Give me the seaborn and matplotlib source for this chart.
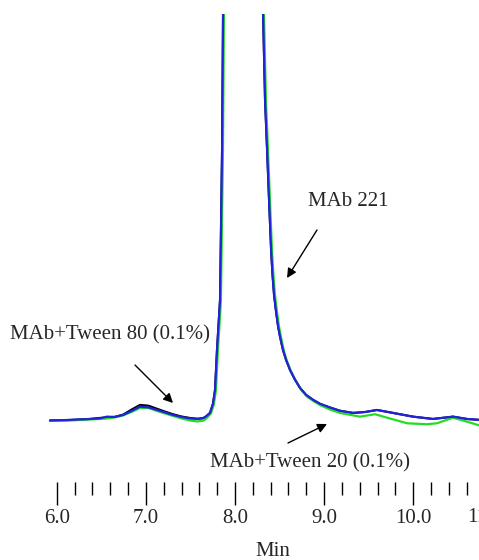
import matplotlib
matplotlib.use("Agg")
import matplotlib.pyplot as plt
import seaborn as sns
import pandas as pd
import numpy as np
from matplotlib.ticker import FixedLocator, FormatStrFormatter

# ---------------- data (retention time in min, signal in arbitrary units) -------------
# apex of the main peak is far off scale (clipped at the top of the frame)
t_black = [5.925, 6.149, 6.374, 6.480, 6.564, 6.650, 6.744, 6.840, 6.934, 7.030, 7.125,
           7.215, 7.305, 7.400, 7.495, 7.580, 7.641, 7.675, 7.720, 7.753, 7.776, 7.798,
           7.832, 7.855, 7.866, 7.875, 8.090, 8.306, 8.315, 8.337, 8.360, 8.382, 8.405,
           8.421, 8.438, 8.461, 8.483, 8.506, 8.539, 8.573, 8.618, 8.674, 8.730, 8.797,
           8.875, 8.954, 9.066, 9.178, 9.324, 9.460, 9.593, 9.773, 9.997, 10.221, 10.445,
           10.602, 10.748]
s_black = [0.12, 0.25, 0.49, 0.74, 0.86, 1.00, 1.55, 2.80, 3.95, 3.75, 3.00,
           2.30, 1.65, 1.10, 0.74, 0.55, 0.70, 1.10, 2.00, 4.20, 7.60, 17.4,
           29.7, 66.6, 100.0, 120.0, 1000.0, 120.0, 100.0, 78.9, 66.6, 54.3, 42.0,
           35.9, 31.0, 26.8, 23.3, 20.6, 17.4, 15.0, 12.5, 10.1, 8.1, 6.4,
           5.2, 4.2, 3.3, 2.5, 1.97, 2.2, 2.7, 1.97, 1.06, 0.49, 1.06,
           0.49, 0.25]

t_blue = [5.925, 6.149, 6.374, 6.480, 6.564, 6.650, 6.744, 6.840, 6.934, 7.030, 7.125,
          7.215, 7.305, 7.400, 7.495, 7.580, 7.641, 7.675, 7.720, 7.753, 7.776, 7.798,
          7.832, 7.855, 7.866, 7.875, 8.090, 8.306, 8.315, 8.337, 8.360, 8.382, 8.405,
          8.421, 8.438, 8.461, 8.483, 8.506, 8.539, 8.573, 8.618, 8.674, 8.730, 8.797,
          8.875, 8.954, 9.066, 9.178, 9.324, 9.460, 9.593, 9.773, 9.997, 10.221, 10.445,
          10.602, 10.748]
s_blue = [0.12, 0.25, 0.49, 0.61, 1.06, 0.98, 1.47, 2.46, 3.51, 3.32, 2.70,
          2.09, 1.47, 0.98, 0.61, 0.49, 0.66, 1.11, 1.97, 4.18, 7.62, 17.4,
          29.7, 66.6, 100.0, 120.0, 1000.0, 120.0, 100.0, 78.9, 66.6, 54.3, 42.0,
          35.9, 31.0, 26.8, 23.3, 20.6, 17.4, 15.0, 12.5, 10.1, 8.1, 6.4,
          5.2, 4.2, 3.3, 2.5, 1.97, 2.2, 2.7, 1.97, 1.06, 0.49, 1.06,
          0.49, 0.25]

t_green = [5.925, 6.149, 6.374, 6.480, 6.564, 6.650, 6.744, 6.840, 6.934, 7.030, 7.125,
           7.215, 7.305, 7.400, 7.495, 7.580, 7.650, 7.685, 7.730, 7.763, 7.786, 7.808,
           7.842, 7.865, 7.876, 7.885, 8.100, 8.316, 8.325, 8.347, 8.370, 8.392, 8.415,
           8.431, 8.448, 8.471, 8.493, 8.516, 8.549, 8.583, 8.628, 8.684, 8.740, 8.807,
           8.885, 8.964, 9.066, 9.178, 9.402, 9.570, 9.705, 9.930, 10.154, 10.266, 10.445,
           10.602, 10.748]
s_green = [0.0, 0.12, 0.37, 0.49, 0.61, 0.86, 1.35, 2.21, 3.19, 3.19, 2.46,
           1.84, 1.23, 0.61, 0.12, -0.12, 0.12, 0.74, 1.84, 4.05, 7.5, 17.2,
           29.5, 66.4, 100.0, 120.0, 1000.0, 120.0, 100.0, 78.9, 66.6, 54.3, 42.0,
           35.9, 31.0, 26.8, 23.3, 20.6, 17.2, 14.7, 12.2, 9.8, 7.7, 6.0,
           4.8, 3.8, 2.8, 1.97, 1.06, 1.65, 0.81, -0.57, -0.81, -0.57, 0.81,
           -0.17, -1.15]

x_ticks_major = [6.0, 7.0, 8.0, 9.0, 10.0, 11.0]
x_label = "Min"
labels = ["MAb 221", "MAb+Tween 80 (0.1%)", "MAb+Tween 20 (0.1%)"]

# ---------------- plotting ----------------
sns.set_style("white")
plt.rcParams["font.family"] = ["Liberation Serif", "DejaVu Serif"]
FS = 15

fig = plt.figure(figsize=(4.79, 5.6), dpi=100)
ax = fig.add_axes([0, 78 / 560, 1, 468 / 560])

df_k = pd.DataFrame({"t": t_black, "s": s_black})
df_b = pd.DataFrame({"t": t_blue, "s": s_blue})
df_g = pd.DataFrame({"t": t_green, "s": s_green})
sns.lineplot(data=df_k, x="t", y="s", ax=ax, color="black", lw=1.5, sort=False)
sns.lineplot(data=df_g, x="t", y="s", ax=ax, color="#22dd22", lw=1.6, sort=False)
sns.lineplot(data=df_b, x="t", y="s", ax=ax, color="#2222dd", lw=1.6, sort=False)

px0, pxw = 56.7, 89.15
ax.set_xlim(6 - px0 / pxw, 6 + (479 - px0) / pxw)
ax.set_ylim(-15, 100)

for sp in ax.spines.values():
    sp.set_visible(False)
ax.set_yticks([])
ax.set_ylabel("")
ax.set_xlabel("")
minor = [v for v in np.round(np.arange(6.2, 11.0, 0.2), 1) if v not in x_ticks_major]
ax.xaxis.set_major_locator(FixedLocator(x_ticks_major))
ax.xaxis.set_minor_locator(FixedLocator(minor))
ax.xaxis.set_major_formatter(FormatStrFormatter("%.1f"))
ax.tick_params(axis="x", which="major", direction="out", length=16.5, width=1.0,
               color="black", labelsize=FS, pad=3, bottom=True)
ax.tick_params(axis="x", which="minor", direction="out", length=9.4, width=1.0,
               color="black", bottom=True)

# clipped label of the 11.0 tick at the right edge
fig.text(467 / 479, 1 - 518 / 560, "11.0", fontsize=FS, ha="left", va="center")
fig.text(273 / 479, 1 - 551 / 560, x_label, fontsize=FS, ha="center", va="center")

def fx(px):
    return px / 479

def fy(py):
    return 1 - py / 560

fig.text(fx(308), fy(202), labels[0], fontsize=FS, ha="left", va="center")
fig.text(fx(10), fy(335), labels[1], fontsize=FS, ha="left", va="center")
fig.text(fx(210), fy(463), labels[2], fontsize=FS, ha="left", va="center")

arrows = [((317, 230), (287, 278)), ((135, 365), (173, 403)), ((288, 443), (327, 424))]
for (x0, y0), (x1, y1) in arrows:
    ax.annotate("", xy=(fx(x1), fy(y1)), xytext=(fx(x0), fy(y0)),
                xycoords="figure fraction", textcoords="figure fraction",
                arrowprops=dict(arrowstyle="-|>", color="black", lw=1.0,
                                mutation_scale=14, shrinkA=0, shrinkB=0))

fig.savefig("out.png", dpi=100, facecolor="white")
